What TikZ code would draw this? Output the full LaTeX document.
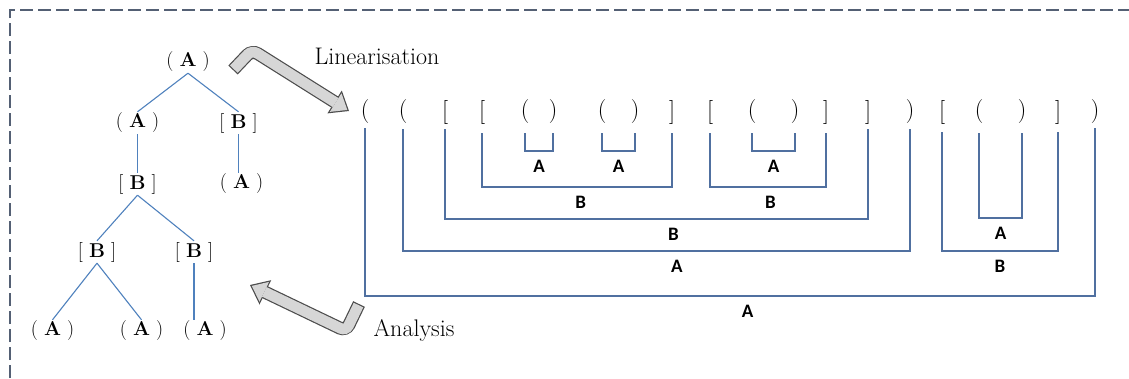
\documentclass[tikz,border=0pt]{standalone}
\usepackage{fontspec}
\usepackage{tikz}
\usetikzlibrary{arrows.meta}
\newfontfamily\labfont{Carlito}
\definecolor{treeblue}{RGB}{79,129,189}
\definecolor{linkblue}{RGB}{80,112,160}
\definecolor{framegray}{RGB}{84,96,116}
\definecolor{arrowfill}{RGB}{214,214,214}

\begin{document}
\begin{tikzpicture}
    [
      x=1pt, y=1pt,
      tnode/.style = {font=\fontsize{20}{24}\selectfont, inner sep=1pt},
      br/.style = {font=\fontsize{24}{28}\selectfont, inner sep=0pt},
      word/.style = {font=\fontsize{24}{28}\selectfont, inner sep=0pt},
      conn/.style = {draw=linkblue, line width=1.4pt},
      lab/.style = {font=\labfont\bfseries\fontsize{19}{22}\selectfont, inner sep=0pt, below=8pt},
      bentout/.style = {draw=black!70, line width=13pt, rounded corners=7pt,
        -{Triangle[width=27pt,length=17pt,line width=0pt]}},
      bentin/.style = {draw=arrowfill, line width=10.6pt, rounded corners=6pt,
        shorten <=1.2pt, shorten >=2pt,
        -{Triangle[width=22pt,length=13.8pt,line width=0pt]}},
      vedge/.style = {edge from parent path = {(\tikzparentnode.south) -- (\tikzparentnode.south |- \tikzchildnode.north)}},
      edge from parent/.style = {draw=treeblue, line width=1.1pt},
      edge from parent path = {(\tikzparentnode.south) -- (\tikzchildnode.north)},
      level 1/.style = {sibling distance = 101pt, level distance = 61pt},
      level 2/.style = {level distance = 61pt},
      level 3/.style = {sibling distance = 97pt, level distance = 68pt},
      level 4/.style = {sibling distance = 89pt, level distance = 79pt},
    ]
    \useasboundingbox (0,0) rectangle (1129,-378);

    % frame
    \draw[framegray, line width=1.3pt, dash pattern=on 13pt off 5pt]
      (10,-378) -- (10,-10) -- (1129,-10);

    % tree
    \node[tnode] (top) at (188,-62) {( \textbf{A} )}
      child {node[tnode] (l1a) {( \textbf{A} )}
        child {node[tnode] (l2b) {[ \textbf{B} ]}
          child[xshift=8pt] {node[tnode] (l3l) {[ \textbf{B} ]}
            child {node[tnode] (l4a) {( \textbf{A} )}}
            child {node[tnode] (l4b) {( \textbf{A} )}}
          }
          child[xshift=8pt] {node[tnode] (l3r) {[ \textbf{B} ]}
            child[xshift=11pt, vedge] {node[tnode] (l4c) {( \textbf{A} )}}
          }
        }
      }
      child {node[tnode] (l1b) {[ \textbf{B} ]}
        child[xshift=3pt, vedge] {node[tnode] (l2a) {( \textbf{A} )}}
      };

    % bent arrows
    \coordinate (lint) at (233,-70);
    \coordinate (link) at (252,-50);
    \coordinate (linp) at (349,-111);
    \draw[bentout] (lint) -- (link) -- (linp);
    \draw[bentin] (lint) -- (link) -- (linp);
    \node[word] (lin) at (377,-56) {Linearisation};

    \coordinate (anat) at (359,-304);
    \coordinate (anak) at (346,-331);
    \coordinate (anap) at (250,-285);
    \draw[bentout] (anat) -- (anak) -- (anap);
    \draw[bentin] (anat) -- (anak) -- (anap);
    \node[word] (ana) at (414,-330) {Analysis};

    % bracket string
    \node[br] (k1) at (365,-112) {(};
    \node[br] (k2) at (403,-112) {(};
    \node[br] (k3) at (445,-112) {[};
    \node[br] (k4) at (482,-112) {[};
    \node[br] (k5) at (525,-112) {(};
    \node[br] (k6) at (553,-112) {)};
    \node[br] (k7) at (602,-112) {(};
    \node[br] (k8) at (635,-112) {)};
    \node[br] (k9) at (672,-112) {]};
    \node[br] (k10) at (710,-112) {[};
    \node[br] (k11) at (752,-112) {(};
    \node[br] (k12) at (795,-112) {)};
    \node[br] (k13) at (826,-112) {]};
    \node[br] (k14) at (868,-112) {]};
    \node[br] (k15) at (910,-112) {)};
    \node[br] (k16) at (942,-112) {[};
    \node[br] (k17) at (979,-112) {(};
    \node[br] (k18) at (1022,-112) {)};
    \node[br] (k19) at (1058,-112) {]};
    \node[br] (k20) at (1095,-112) {)};

    % matching pairs
    \draw[conn] ([yshift=-9pt]k5.south) -- ++(0,-18) -| node[lab,pos=.25] (m1) {A} ([yshift=-9pt]k6.south);
    \draw[conn] ([yshift=-9pt]k7.south) -- ++(0,-18) -| node[lab,pos=.25] (m2) {A} ([yshift=-9pt]k8.south);
    \draw[conn] ([yshift=-9pt]k4.south) -- ++(0,-54) -| node[lab,pos=.26] (m3) {B} ([yshift=-9pt]k9.south);
    \draw[conn] ([yshift=-5pt]k3.south) -- ++(0,-90) -| node[lab,pos=.27] (m4) {B} ([yshift=-5pt]k14.south);
    \draw[conn] ([yshift=-5pt]k2.south) -- ++(0,-122) -| node[lab,pos=.27] (m5) {A} ([yshift=-5pt]k15.south);
    \draw[conn] ([yshift=-4pt]k1.south) -- ++(0,-168) -| node[lab,pos=.262] (m6) {A} ([yshift=-4pt]k20.south);
    \draw[conn] ([yshift=-9pt]k11.south) -- ++(0,-18) -| node[lab,pos=.25] (m7) {A} ([yshift=-9pt]k12.south);
    \draw[conn] ([yshift=-9pt]k10.south) -- ++(0,-54) -| node[lab,pos=.26] (m8) {B} ([yshift=-9pt]k13.south);
    \draw[conn] ([yshift=-9pt]k17.south) -- ++(0,-85) -| node[lab,pos=.25] (m9) {A} ([yshift=-9pt]k18.south);
    \draw[conn] ([yshift=-8pt]k16.south) -- ++(0,-119) -| node[lab,pos=.25] (m10) {B} ([yshift=-8pt]k19.south);
  \end{tikzpicture}
\end{document}
